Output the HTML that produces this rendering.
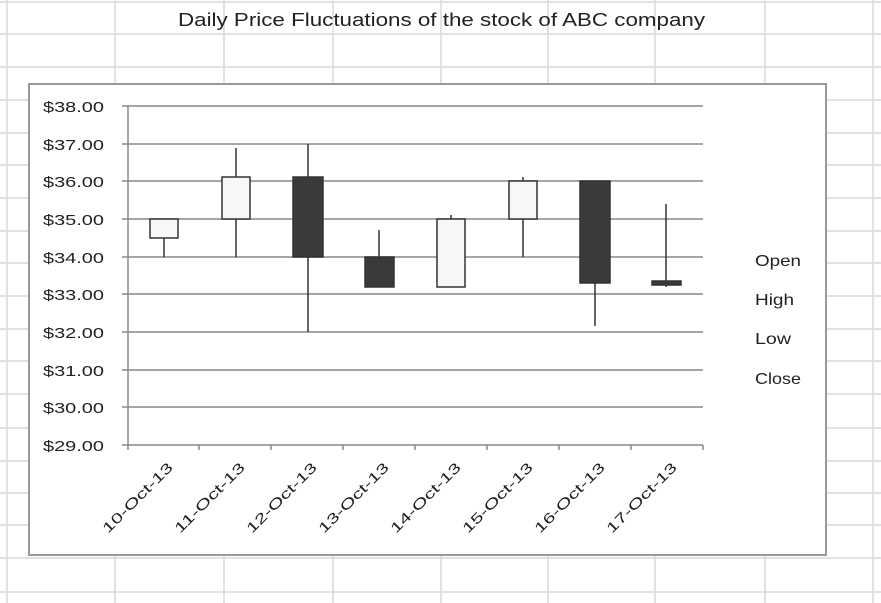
<!DOCTYPE html>
<html><head><meta charset="utf-8"><style>
html,body{margin:0;padding:0;background:#fff;}
svg{display:block;font-family:"Liberation Sans",sans-serif;}
</style></head><body>
<svg width="881" height="603" viewBox="0 0 881 603" xmlns="http://www.w3.org/2000/svg">
<g stroke="#d9d9d9" stroke-width="1.5">
<line x1="0" y1="2" x2="881" y2="2"/><line x1="0" y1="34" x2="881" y2="34"/><line x1="0" y1="67" x2="881" y2="67"/>
<line x1="0" y1="100" x2="881" y2="100"/><line x1="0" y1="133" x2="881" y2="133"/><line x1="0" y1="165" x2="881" y2="165"/>
<line x1="0" y1="198" x2="881" y2="198"/><line x1="0" y1="231" x2="881" y2="231"/><line x1="0" y1="263" x2="881" y2="263"/>
<line x1="0" y1="296" x2="881" y2="296"/><line x1="0" y1="329" x2="881" y2="329"/><line x1="0" y1="361" x2="881" y2="361"/>
<line x1="0" y1="394" x2="881" y2="394"/><line x1="0" y1="428" x2="881" y2="428"/><line x1="0" y1="461" x2="881" y2="461"/>
<line x1="0" y1="493" x2="881" y2="493"/><line x1="0" y1="525" x2="881" y2="525"/><line x1="0" y1="558" x2="881" y2="558"/>
<line x1="0" y1="592" x2="881" y2="592"/>
<line x1="7" y1="0" x2="7" y2="603"/><line x1="115" y1="0" x2="115" y2="603"/><line x1="224" y1="0" x2="224" y2="603"/>
<line x1="333" y1="0" x2="333" y2="603"/><line x1="441" y1="0" x2="441" y2="603"/><line x1="548" y1="0" x2="548" y2="603"/>
<line x1="655" y1="0" x2="655" y2="603"/><line x1="765" y1="0" x2="765" y2="603"/><line x1="873" y1="0" x2="873" y2="603"/>
</g>
<text x="178" y="26" font-size="18" fill="#222" textLength="527" lengthAdjust="spacingAndGlyphs">Daily Price Fluctuations of the stock of ABC company</text>
<rect x="29" y="84" width="797" height="471" fill="#fff" stroke="#999" stroke-width="2"/>
<g stroke="#888" stroke-width="1.5">
<line x1="122" y1="106" x2="703" y2="106"/><line x1="122" y1="144" x2="703" y2="144"/><line x1="122" y1="181" x2="703" y2="181"/>
<line x1="122" y1="219" x2="703" y2="219"/><line x1="122" y1="257" x2="703" y2="257"/><line x1="122" y1="294" x2="703" y2="294"/>
<line x1="122" y1="332" x2="703" y2="332"/><line x1="122" y1="370" x2="703" y2="370"/><line x1="122" y1="407" x2="703" y2="407"/>
<line x1="122" y1="445" x2="703" y2="445"/>
<line x1="128" y1="106" x2="128" y2="450"/>
<line x1="199" y1="445" x2="199" y2="450"/><line x1="271" y1="445" x2="271" y2="450"/><line x1="343" y1="445" x2="343" y2="450"/>
<line x1="415" y1="445" x2="415" y2="450"/><line x1="487" y1="445" x2="487" y2="450"/><line x1="559" y1="445" x2="559" y2="450"/>
<line x1="631" y1="445" x2="631" y2="450"/><line x1="703" y1="445" x2="703" y2="450"/>
</g>
<g font-size="15" fill="#222">
<text x="43" y="112" textLength="61" lengthAdjust="spacingAndGlyphs">$38.00</text>
<text x="43" y="150" textLength="61" lengthAdjust="spacingAndGlyphs">$37.00</text>
<text x="43" y="187" textLength="61" lengthAdjust="spacingAndGlyphs">$36.00</text>
<text x="43" y="225" textLength="61" lengthAdjust="spacingAndGlyphs">$35.00</text>
<text x="43" y="263" textLength="61" lengthAdjust="spacingAndGlyphs">$34.00</text>
<text x="43" y="300" textLength="61" lengthAdjust="spacingAndGlyphs">$33.00</text>
<text x="43" y="338" textLength="61" lengthAdjust="spacingAndGlyphs">$32.00</text>
<text x="43" y="376" textLength="61" lengthAdjust="spacingAndGlyphs">$31.00</text>
<text x="43" y="413" textLength="61" lengthAdjust="spacingAndGlyphs">$30.00</text>
<text x="43" y="451" textLength="61" lengthAdjust="spacingAndGlyphs">$29.00</text>
</g>
<g font-size="14" fill="#222">
<text transform="translate(108,534) rotate(-45)" textLength="93" lengthAdjust="spacingAndGlyphs">10-Oct-13</text>
<text transform="translate(180,534) rotate(-45)" textLength="93" lengthAdjust="spacingAndGlyphs">11-Oct-13</text>
<text transform="translate(252,534) rotate(-45)" textLength="93" lengthAdjust="spacingAndGlyphs">12-Oct-13</text>
<text transform="translate(324,534) rotate(-45)" textLength="93" lengthAdjust="spacingAndGlyphs">13-Oct-13</text>
<text transform="translate(396,534) rotate(-45)" textLength="93" lengthAdjust="spacingAndGlyphs">14-Oct-13</text>
<text transform="translate(468,534) rotate(-45)" textLength="93" lengthAdjust="spacingAndGlyphs">15-Oct-13</text>
<text transform="translate(540,534) rotate(-45)" textLength="93" lengthAdjust="spacingAndGlyphs">16-Oct-13</text>
<text transform="translate(612,534) rotate(-45)" textLength="93" lengthAdjust="spacingAndGlyphs">17-Oct-13</text>
</g>
<g stroke="#333" stroke-width="1.5">
<line x1="164" y1="219" x2="164" y2="257"/>
<rect x="150" y="219" width="28" height="19" fill="#f7f7f7"/>
<line x1="236" y1="148" x2="236" y2="257"/>
<rect x="222" y="177" width="28" height="42" fill="#f7f7f7"/>
<line x1="308" y1="144" x2="308" y2="332"/>
<rect x="293" y="177" width="30" height="80" fill="#3a3a3a"/>
<line x1="379" y1="230" x2="379" y2="287"/>
<rect x="365" y="257" width="29" height="30" fill="#3a3a3a"/>
<line x1="451" y1="215" x2="451" y2="287"/>
<rect x="437" y="219" width="28" height="68" fill="#f7f7f7"/>
<line x1="523" y1="177" x2="523" y2="257"/>
<rect x="509" y="181" width="28" height="38" fill="#f7f7f7"/>
<line x1="595" y1="181" x2="595" y2="326"/>
<rect x="580" y="181" width="30" height="102" fill="#3a3a3a"/>
<line x1="666" y1="204" x2="666" y2="287"/>
<rect x="652" y="281" width="29" height="4" fill="#3a3a3a"/>
</g>
<g font-size="16" fill="#222">
<text x="755" y="266" textLength="46" lengthAdjust="spacingAndGlyphs">Open</text>
<text x="755" y="305" textLength="39" lengthAdjust="spacingAndGlyphs">High</text>
<text x="755" y="344" textLength="36" lengthAdjust="spacingAndGlyphs">Low</text>
<text x="755" y="384" textLength="46" lengthAdjust="spacingAndGlyphs">Close</text>
</g>
</svg>
</body></html>
